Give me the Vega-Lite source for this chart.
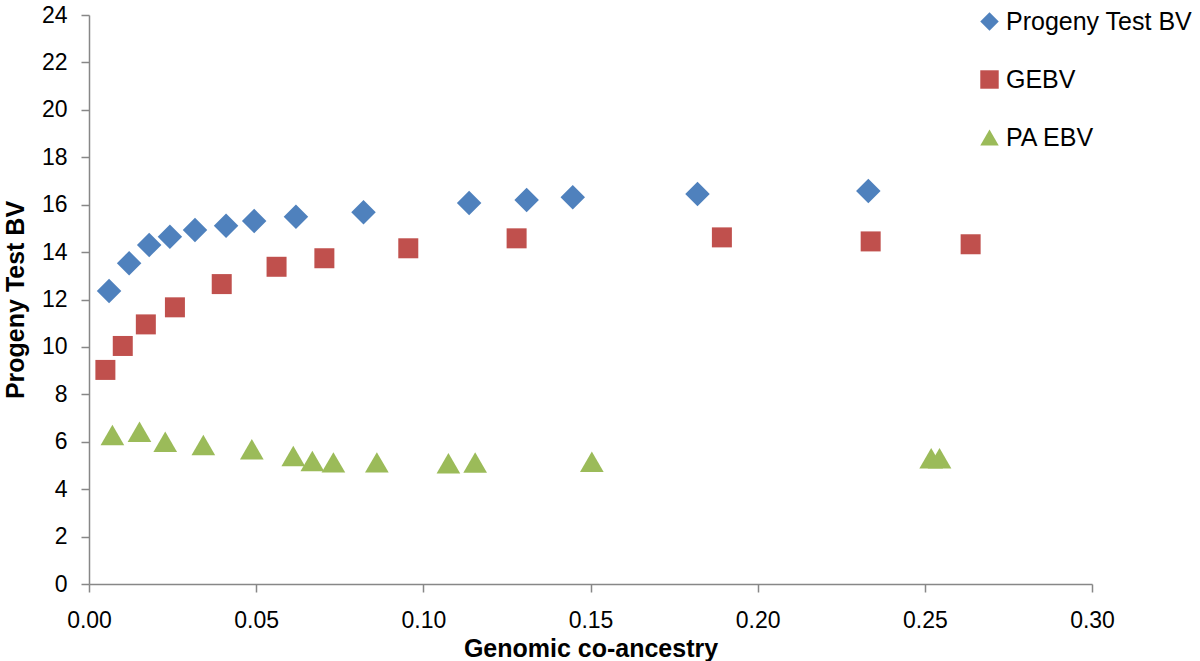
{
  "$schema": "https://vega.github.io/schema/vega-lite/v6.json",
  "width": 1003,
  "height": 569,
  "autosize": "none",
  "padding": {"left": 89, "top": 15, "right": 108, "bottom": 77},
  "background": "white",
  "config": {
    "view": {"stroke": null},
    "font": "Liberation Sans"
  },
  "data": {
    "values": [
      {"series": "Progeny Test BV", "x": 0.0060, "y": 12.36},
      {"series": "Progeny Test BV", "x": 0.0120, "y": 13.53},
      {"series": "Progeny Test BV", "x": 0.0180, "y": 14.30},
      {"series": "Progeny Test BV", "x": 0.0242, "y": 14.65},
      {"series": "Progeny Test BV", "x": 0.0317, "y": 14.93},
      {"series": "Progeny Test BV", "x": 0.0410, "y": 15.11},
      {"series": "Progeny Test BV", "x": 0.0494, "y": 15.31},
      {"series": "Progeny Test BV", "x": 0.0619, "y": 15.49},
      {"series": "Progeny Test BV", "x": 0.0821, "y": 15.68},
      {"series": "Progeny Test BV", "x": 0.1137, "y": 16.07},
      {"series": "Progeny Test BV", "x": 0.1309, "y": 16.20},
      {"series": "Progeny Test BV", "x": 0.1447, "y": 16.31},
      {"series": "Progeny Test BV", "x": 0.1820, "y": 16.45},
      {"series": "Progeny Test BV", "x": 0.2331, "y": 16.58},
      {"series": "GEBV", "x": 0.0049, "y": 9.03},
      {"series": "GEBV", "x": 0.0101, "y": 10.04},
      {"series": "GEBV", "x": 0.0170, "y": 10.95},
      {"series": "GEBV", "x": 0.0257, "y": 11.67},
      {"series": "GEBV", "x": 0.0397, "y": 12.65},
      {"series": "GEBV", "x": 0.0561, "y": 13.38},
      {"series": "GEBV", "x": 0.0704, "y": 13.74},
      {"series": "GEBV", "x": 0.0955, "y": 14.16},
      {"series": "GEBV", "x": 0.1279, "y": 14.58},
      {"series": "GEBV", "x": 0.1893, "y": 14.62},
      {"series": "GEBV", "x": 0.2338, "y": 14.45},
      {"series": "GEBV", "x": 0.2637, "y": 14.33},
      {"series": "PA EBV", "x": 0.0070, "y": 6.28},
      {"series": "PA EBV", "x": 0.0151, "y": 6.42},
      {"series": "PA EBV", "x": 0.0228, "y": 6.00},
      {"series": "PA EBV", "x": 0.0342, "y": 5.86},
      {"series": "PA EBV", "x": 0.0487, "y": 5.68},
      {"series": "PA EBV", "x": 0.0611, "y": 5.40},
      {"series": "PA EBV", "x": 0.0668, "y": 5.19},
      {"series": "PA EBV", "x": 0.0731, "y": 5.13},
      {"series": "PA EBV", "x": 0.0861, "y": 5.13},
      {"series": "PA EBV", "x": 0.1075, "y": 5.09},
      {"series": "PA EBV", "x": 0.1155, "y": 5.12},
      {"series": "PA EBV", "x": 0.1504, "y": 5.16},
      {"series": "PA EBV", "x": 0.2519, "y": 5.30},
      {"series": "PA EBV", "x": 0.2544, "y": 5.30}
    ]
  },
  "encoding": {
    "x": {
      "field": "x",
      "type": "quantitative",
      "title": "Genomic co-ancestry",
      "scale": {"domain": [0, 0.3], "nice": false, "zero": false},
      "axis": {
        "values": [0, 0.05, 0.1, 0.15, 0.2, 0.25, 0.3],
        "format": ".2f",
        "grid": false,
        "domainColor": "#878787",
        "domainWidth": 1.5,
        "tickColor": "#878787",
        "tickWidth": 1.5,
        "tickSize": 8,
        "labelFontSize": 23,
        "labelColor": "#000000",
        "labelPadding": 17,
        "labelFlush": false,
        "titleFontSize": 25,
        "titleFontWeight": "bold",
        "titleColor": "#000000",
        "titlePadding": 4
      }
    },
    "y": {
      "field": "y",
      "type": "quantitative",
      "title": "Progeny Test BV",
      "scale": {"domain": [0, 24], "nice": false, "zero": true},
      "axis": {
        "values": [0, 2, 4, 6, 8, 10, 12, 14, 16, 18, 20, 22, 24],
        "grid": false,
        "domainColor": "#878787",
        "domainWidth": 1.5,
        "tickColor": "#878787",
        "tickWidth": 1.5,
        "tickSize": 8,
        "labelFontSize": 23,
        "labelColor": "#000000",
        "labelPadding": 14,
        "labelFlush": false,
        "titleFontSize": 25,
        "titleFontWeight": "bold",
        "titleColor": "#000000",
        "titlePadding": 13
      }
    },
    "color": {
      "field": "series",
      "type": "nominal",
      "title": null,
      "scale": {
        "domain": ["Progeny Test BV", "GEBV", "PA EBV"],
        "range": ["#4F81BD", "#C0504D", "#9BBB59"]
      },
      "legend": {
        "orient": "none",
        "legendX": 888,
        "legendY": -6,
        "labelFontSize": 25,
        "labelColor": "#000000",
        "symbolSize": 340,
        "symbolStrokeWidth": 0,
        "rowPadding": 32,
        "labelOffset": 4,
        "labelLimit": 300
      }
    },
    "shape": {
      "field": "series",
      "type": "nominal",
      "title": null,
      "scale": {
        "domain": ["Progeny Test BV", "GEBV", "PA EBV"],
        "range": ["diamond", "square", "triangle-up"]
      }
    }
  },
  "layer": [
    {
      "transform": [{"filter": "datum.series === 'Progeny Test BV'"}],
      "mark": {"type": "point", "filled": true, "opacity": 1, "size": 600}
    },
    {
      "transform": [{"filter": "datum.series === 'GEBV'"}],
      "mark": {"type": "point", "filled": true, "opacity": 1, "size": 400}
    },
    {
      "transform": [{"filter": "datum.series === 'PA EBV'"}],
      "mark": {"type": "point", "filled": true, "opacity": 1, "size": 560}
    }
  ]
}
